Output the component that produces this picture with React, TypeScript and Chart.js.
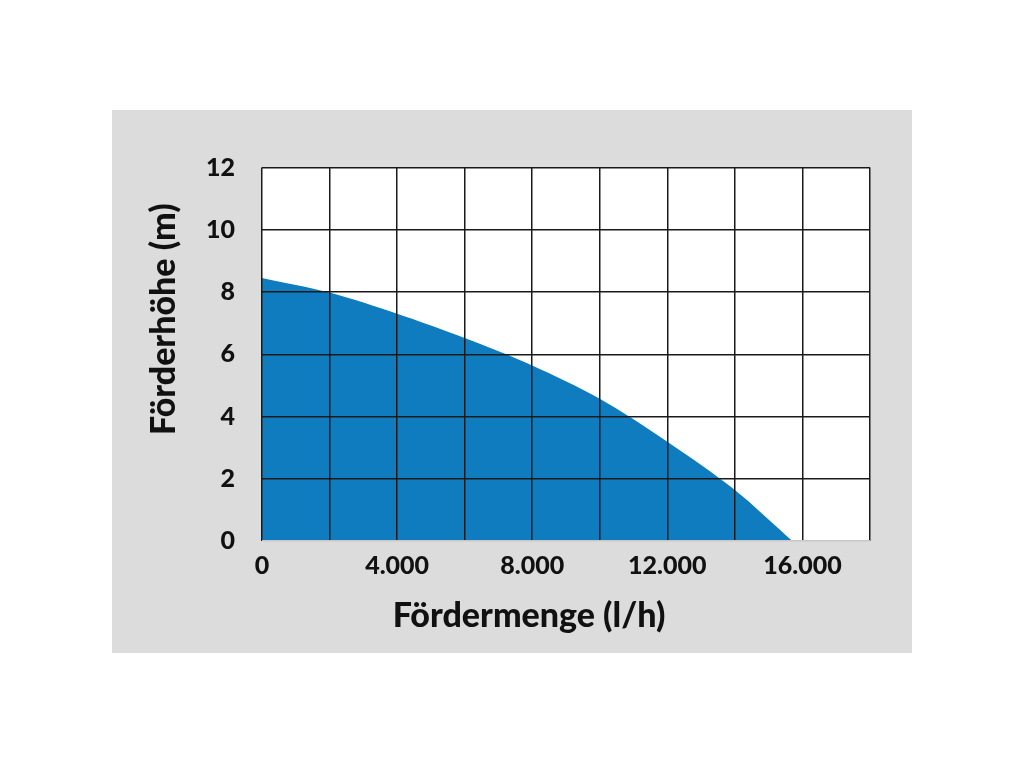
import React, { useEffect, useRef } from "react";
import { Chart, registerables } from "chart.js";

Chart.register(...registerables);

const flowRates = [0, 2000, 4000, 6000, 8000, 10000, 12000, 14000, 15700];
const heads = [8.45, 7.98, 7.3, 6.52, 5.64, 4.57, 3.19, 1.64, 0];
const xLabelValues = [0, 4000, 8000, 12000, 16000];
const xTitle = "Fördermenge (l/h)";
const yTitle = "Förderhöhe (m)";

const FONT = "Lato";

const plotBackground = {
  id: "plotBackground",
  beforeDraw(chart: any) {
    const { ctx, chartArea } = chart;
    ctx.save();
    ctx.fillStyle = "#ffffff";
    ctx.fillRect(chartArea.left, chartArea.top, chartArea.right - chartArea.left, chartArea.bottom - chartArea.top);
    ctx.restore();
  },
};

const axisTitles = {
  id: "axisTitles",
  afterDraw(chart: any) {
    const { ctx, chartArea } = chart;
    ctx.save();
    ctx.fillStyle = "#111";
    ctx.font = `900 34px ${FONT}`;
    ctx.textAlign = "center";
    ctx.textBaseline = "alphabetic";
    const cx = (chartArea.left + chartArea.right) / 2 - 37;
    ctx.fillText(xTitle, cx, chartArea.bottom + 86);
    ctx.translate(63, (chartArea.top + chartArea.bottom) / 2 - 35);
    ctx.rotate(-Math.PI / 2);
    ctx.fillText(yTitle, 0, 0);
    ctx.restore();
  },
};

export default function App() {
  const ref = useRef<HTMLCanvasElement>(null);
  useEffect(() => {
    if (!ref.current) return;
    const chart = new Chart(ref.current, {
      type: "line",
      data: {
        datasets: [
          {
            data: flowRates.map((x, i) => ({ x, y: heads[i] })),
            fill: "origin",
            backgroundColor: "#107cc0",
            borderWidth: 0,
            borderColor: "#107cc0",
            pointRadius: 0,
            tension: 0.3,
          },
        ],
      },
      options: {
        animation: false,
        responsive: false,
        layout: { padding: { left: 0, top: 57.5, right: 42, bottom: 0 } },
        plugins: { legend: { display: false }, tooltip: { enabled: false } },
        scales: {
          x: {
            type: "linear",
            min: 0,
            max: 18000,
            afterFit: (s: any) => {
              s.height = 112;
            },
            border: { display: false },
            grid: { color: "#1a1a1a", lineWidth: 1.5, drawTicks: false, z: 1 },
            ticks: {
              stepSize: 2000,
              padding: 10,
              color: "#111",
              font: { family: FONT, size: 25, weight: "900" },
              maxRotation: 0,
              autoSkip: false,
              callback: (v: any) =>
                xLabelValues.includes(Number(v)) ? Number(v).toLocaleString("de-DE") : "",
            },
          },
          y: {
            min: 0,
            max: 12,
            afterFit: (s: any) => {
              s.width = 150;
            },
            border: { display: false },
            grid: {
              color: (c: any) => (c.tick && c.tick.value === 0 ? "#c8c8c8" : "#1a1a1a"),
              lineWidth: 1.5,
              drawTicks: false,
              z: 1,
            },
            ticks: {
              stepSize: 2,
              padding: 27,
              color: "#111",
              font: { family: FONT, size: 25, weight: "900" },
            },
          },
        },
      },
      plugins: [plotBackground, axisTitles],
    });
    return () => chart.destroy();
  }, []);
  return (
    <div style={{ position: "absolute", left: 112, top: 110, width: 800, height: 543, background: "#dcdcdc" }}>
      <canvas ref={ref} width={800} height={543} style={{ display: "block" }} />
    </div>
  );
}
